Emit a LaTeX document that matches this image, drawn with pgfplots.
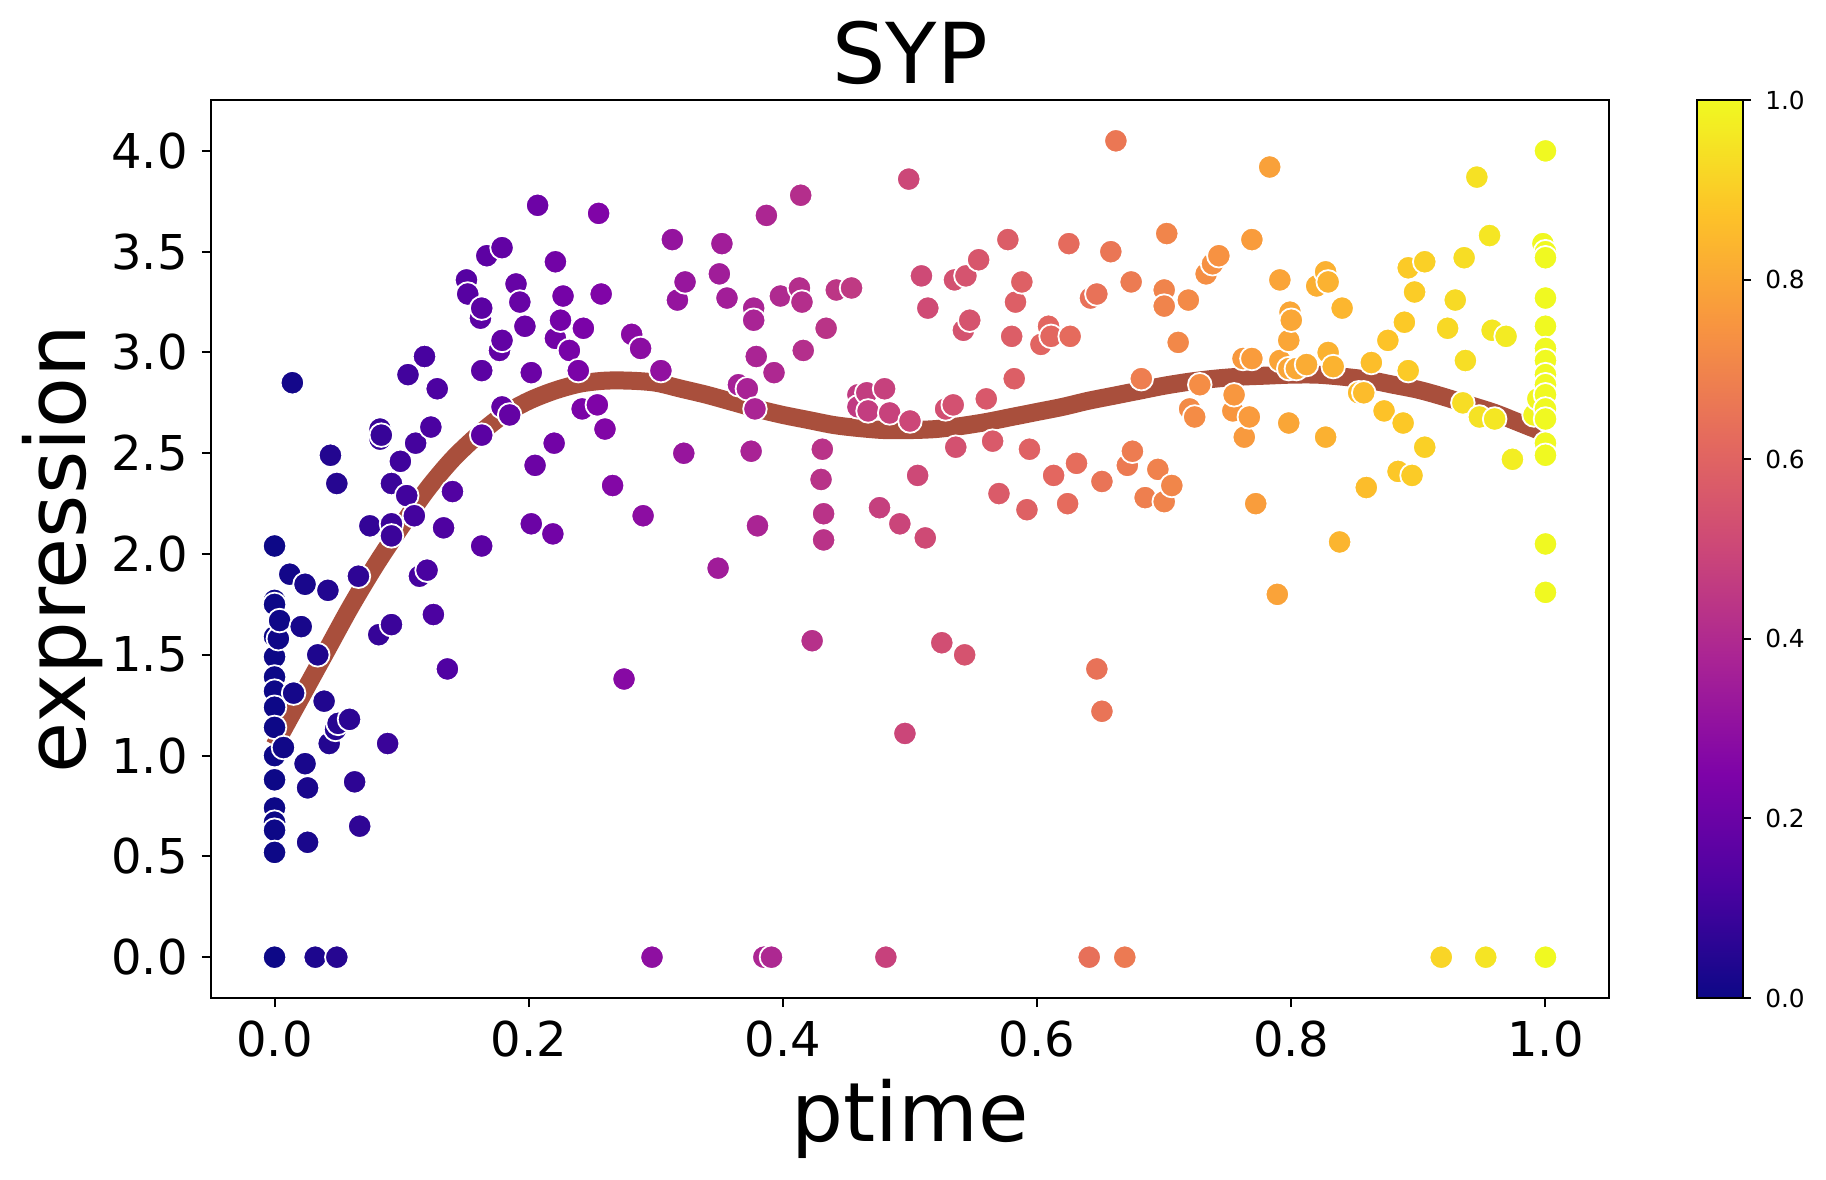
\documentclass[border=0pt]{standalone}
\usepackage{fontspec}
\setmainfont{DejaVu Sans}
\usepackage{pgfplots}
\pgfplotsset{compat=1.18}

% plasma colour map
\pgfplotsset{
  colormap={plasma}{rgb255(0cm)=(13,8,135); rgb255(1cm)=(76,2,161); rgb255(2cm)=(126,3,168);
    rgb255(3cm)=(169,35,149); rgb255(4cm)=(204,71,120); rgb255(5cm)=(229,107,93);
    rgb255(6cm)=(248,149,64); rgb255(7cm)=(253,195,40); rgb255(8cm)=(240,249,33)},
  /pgf/number format/.cd, fixed, fixed zerofill, precision=1, assume math mode=true,
}
\definecolor{fitline}{RGB}{169,79,60}

\begin{document}
\begin{tikzpicture}
\useasboundingbox (0,0) rectangle (456.5pt,294.75pt);
\begin{axis}[
  at={(52.75pt,45.25pt)}, anchor=south west,
  width=349.5pt, height=224.5pt, scale only axis,
  xmin=-0.05, xmax=1.05, ymin=-0.2025, ymax=4.2525,
  xtick={0,0.2,0.4,0.6,0.8,1}, ytick={0,0.5,1,1.5,2,2.5,3,3.5,4},
  tick pos=left, tick align=outside, major tick length=2.3pt,
  every tick/.style={black, line width=0.5pt},
  axis line style={line width=0.5pt},
  ticklabel style={font=\fontsize{12}{14}\selectfont},
  title={SYP},
  title style={at={(axis description cs:0.5,1.0189)}, anchor=base, yshift=-6pt, inner sep=0pt,
    font=\fontsize{21}{25}\selectfont},
  xlabel={ptime},
  xlabel style={at={(axis description cs:0.5,-0.1593)}, anchor=base, inner sep=0pt,
    font=\fontsize{20.5}{24}\selectfont},
  ylabel={expression},
  ylabel style={at={(axis description cs:-0.0895,0.5)}, anchor=base, inner sep=0pt,
    font=\fontsize{20.8}{24}\selectfont},
  colormap name=plasma, point meta min=0, point meta max=1,
  colorbar,
  colorbar style={
    at={(parent axis.north east)}, anchor=north west, xshift=13.5pt,
    width=11.5pt, height=224.5pt, scale only axis,
    ytick={0,0.2,0.4,0.6,0.8,1}, ytick pos=right, yticklabel pos=right,
    tick align=outside, major tick length=2pt,
    every tick/.style={black, line width=0.5pt},
    axis line style={line width=0.5pt},
    yticklabel style={font=\fontsize{6.2}{7}\selectfont},
  },
]
\addplot[scatter, only marks, mark=*, mark size=2.95pt, scatter src=x,
  scatter/use mapped color={draw=white, fill=mapped color},
  mark options={line width=0.45pt}] table[x=t, y=e] {
t e
0.000 2.04
0.000 1.77
0.000 1.75
0.000 1.59
0.000 1.49
0.000 1.39
0.000 1.32
0.000 1.24
0.000 1.14
0.000 1.00
0.000 0.88
0.000 0.74
0.000 0.67
0.000 0.63
0.000 0.52
0.000 0.00
0.003 1.58
0.004 1.67
0.007 1.04
0.012 1.90
0.014 2.85
0.015 1.31
0.021 1.64
0.024 1.85
0.024 0.96
0.026 0.84
0.026 0.57
0.032 0.00
0.034 1.50
0.039 1.27
0.042 1.82
0.043 1.06
0.044 2.49
0.048 1.13
0.049 2.35
0.049 0.00
0.050 1.16
0.059 1.18
0.063 0.87
0.066 1.89
0.067 0.65
0.075 2.14
0.082 1.60
0.083 2.62
0.083 2.57
0.084 2.59
0.089 1.06
0.092 2.35
0.092 2.15
0.092 2.09
0.092 1.65
0.099 2.46
0.104 2.29
0.105 2.89
0.110 2.19
0.111 2.55
0.114 1.89
0.118 2.98
0.120 1.92
0.123 2.63
0.125 1.70
0.128 2.82
0.133 2.13
0.136 1.43
0.140 2.31
0.151 3.36
0.152 3.29
0.162 3.17
0.163 3.22
0.163 2.91
0.163 2.59
0.163 2.04
0.167 3.48
0.177 3.01
0.179 3.52
0.179 3.06
0.179 2.73
0.185 2.69
0.190 3.34
0.193 3.25
0.197 3.13
0.202 2.90
0.202 2.15
0.205 2.44
0.207 3.73
0.219 2.10
0.220 2.55
0.221 3.45
0.221 3.07
0.225 3.16
0.227 3.28
0.232 3.01
0.239 2.91
0.242 2.72
0.243 3.12
0.254 2.74
0.255 3.69
0.257 3.29
0.260 2.62
0.266 2.34
0.275 1.38
0.281 3.09
0.288 3.02
0.290 2.19
0.297 0.00
0.304 2.91
0.313 3.56
0.317 3.26
0.322 2.50
0.323 3.35
0.349 1.93
0.350 3.39
0.352 3.54
0.356 3.27
0.365 2.84
0.372 2.82
0.375 2.51
0.377 3.22
0.377 3.16
0.378 2.72
0.379 2.98
0.380 2.14
0.385 0.00
0.387 3.68
0.391 0.00
0.393 2.90
0.398 3.28
0.413 3.32
0.414 3.78
0.415 3.25
0.416 3.01
0.423 1.57
0.430 2.37
0.431 2.52
0.432 2.20
0.432 2.07
0.434 3.12
0.442 3.31
0.454 3.32
0.459 2.79
0.459 2.73
0.466 2.80
0.467 2.71
0.476 2.23
0.480 2.82
0.481 0.00
0.484 2.70
0.492 2.15
0.496 1.11
0.499 3.86
0.500 2.66
0.506 2.39
0.509 3.38
0.512 2.08
0.514 3.22
0.525 1.56
0.528 2.72
0.534 2.74
0.535 3.36
0.536 2.53
0.542 3.11
0.543 1.50
0.544 3.38
0.547 3.16
0.554 3.46
0.560 2.77
0.565 2.56
0.570 2.30
0.577 3.56
0.580 3.08
0.582 2.87
0.583 3.25
0.588 3.35
0.592 2.22
0.594 2.52
0.603 3.04
0.609 3.13
0.611 3.08
0.613 2.39
0.624 2.25
0.625 3.54
0.626 3.08
0.631 2.45
0.641 0.00
0.642 3.27
0.647 3.29
0.647 1.43
0.651 2.36
0.651 1.22
0.658 3.50
0.662 4.05
0.669 0.00
0.671 2.44
0.674 3.35
0.675 2.51
0.682 2.87
0.685 2.28
0.695 2.42
0.700 3.31
0.700 3.23
0.700 2.26
0.702 3.59
0.706 2.34
0.711 3.05
0.719 3.26
0.720 2.72
0.724 2.68
0.728 2.84
0.733 3.39
0.738 3.44
0.743 3.48
0.754 2.71
0.755 2.79
0.762 2.97
0.763 2.58
0.767 2.68
0.769 3.56
0.769 2.97
0.772 2.25
0.783 3.92
0.789 1.80
0.791 3.36
0.791 2.96
0.798 3.06
0.798 2.92
0.798 2.65
0.799 3.20
0.800 3.16
0.804 2.92
0.812 2.94
0.820 3.33
0.827 3.40
0.827 2.58
0.829 3.35
0.829 3.00
0.833 2.93
0.838 2.06
0.840 3.22
0.853 2.80
0.857 2.80
0.859 2.33
0.863 2.95
0.873 2.71
0.876 3.06
0.884 2.41
0.888 2.65
0.889 3.15
0.892 3.42
0.892 2.91
0.895 2.39
0.897 3.30
0.905 3.45
0.905 2.53
0.918 0.00
0.923 3.12
0.929 3.26
0.935 2.75
0.936 3.47
0.937 2.96
0.946 3.87
0.948 2.68
0.953 0.00
0.956 3.58
0.958 3.11
0.960 2.67
0.969 3.08
0.974 2.47
0.991 2.69
0.994 2.77
0.998 3.54
1.000 4.00
1.000 3.50
1.000 3.47
1.000 3.27
1.000 3.13
1.000 3.02
1.000 2.96
1.000 2.89
1.000 2.84
1.000 2.79
1.000 2.72
1.000 2.67
1.000 2.55
1.000 2.49
1.000 2.05
1.000 1.81
1.000 0.00
};
% fitted trend
\addplot[fitline, line width=4.5pt, smooth, no marks] coordinates {
(0.00,1.05) (0.02,1.28) (0.04,1.51) (0.06,1.74) (0.08,1.95) (0.10,2.14)
(0.12,2.32) (0.14,2.47) (0.16,2.59) (0.18,2.69) (0.20,2.76) (0.22,2.81)
(0.24,2.845) (0.26,2.86) (0.28,2.86) (0.30,2.85) (0.32,2.82) (0.34,2.79)
(0.36,2.755) (0.38,2.72) (0.40,2.69) (0.42,2.665) (0.44,2.64) (0.46,2.625)
(0.48,2.615) (0.50,2.615) (0.52,2.62) (0.54,2.635) (0.56,2.655) (0.58,2.68)
(0.60,2.705) (0.62,2.73) (0.64,2.76) (0.66,2.785) (0.68,2.81) (0.70,2.835)
(0.72,2.855) (0.74,2.87) (0.76,2.88) (0.78,2.885) (0.80,2.89) (0.82,2.89)
(0.84,2.88) (0.86,2.865) (0.88,2.84) (0.90,2.815) (0.92,2.78) (0.94,2.74)
(0.96,2.70) (0.98,2.65) (1.00,2.60)
};
\end{axis}
\end{tikzpicture}
\end{document}
